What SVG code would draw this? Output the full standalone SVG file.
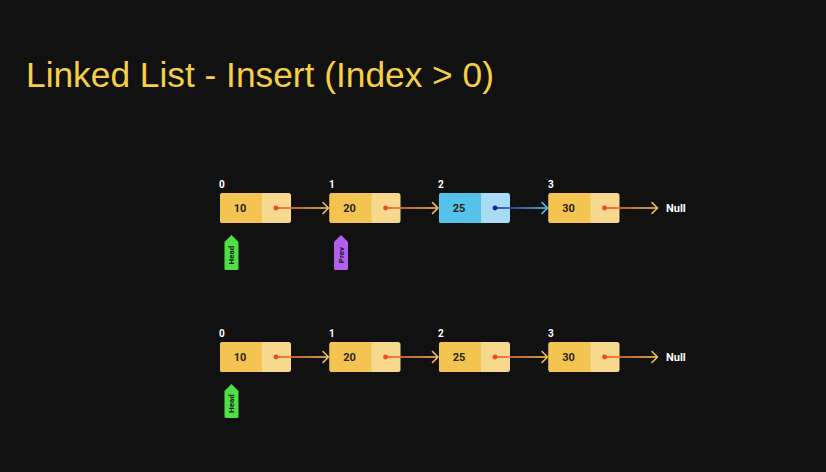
<svg xmlns="http://www.w3.org/2000/svg" width="826" height="472" viewBox="0 0 826 472">
  <defs>
    <linearGradient id="linkRed" x1="0" y1="0" x2="1" y2="0">
      <stop offset="0" stop-color="#e8502a"/>
      <stop offset="1" stop-color="#f2c255"/>
    </linearGradient>
    <linearGradient id="linkBlue" x1="0" y1="0" x2="1" y2="0">
      <stop offset="0" stop-color="#1a2a9a"/>
      <stop offset="1" stop-color="#5bc4ea"/>
    </linearGradient>
    <style>
      .title { font-family: "Liberation Sans", Arial, sans-serif; font-size: 35.3px; fill: #f5cf48; }
      .idx { font-family: Roboto, "Liberation Sans", sans-serif; font-size: 10px; font-weight: bold; fill: #ffffff; }
      .val { font-family: Roboto, "Liberation Sans", sans-serif; font-size: 11px; font-weight: bold; fill: #2a2216; text-anchor: middle; }
      .null { font-family: Roboto, "Liberation Sans", sans-serif; font-size: 11px; font-weight: bold; fill: #ffffff; }
      .tagtxt { font-family: Roboto, "Liberation Sans", sans-serif; font-size: 8px; font-weight: bold; fill: #1a1a1a; text-anchor: middle; }
      .yl { fill: #f3c452; }
      .yr { fill: #f6d98c; }
      .bl { fill: #55c2ea; }
      .br { fill: #a8dcf4; }
      .lnR { fill: url(#linkRed); }
      .lnB { fill: url(#linkBlue); }
      .headY { stroke: #f2c255; stroke-width: 1.6; fill: none; stroke-linecap: round; stroke-linejoin: round; }
      .headB { stroke: #5bc4ea; stroke-width: 1.6; fill: none; stroke-linecap: round; stroke-linejoin: round; }
      .dotR { fill: #f04a23; }
      .dotB { fill: #1522a0; }
    </style>
  </defs>

  <rect width="826" height="472" fill="#111111"/>

  <text class="title" x="26" y="87">Linked List - Insert (Index &gt; 0)</text>

  <!-- Top list: 10 -> 20 -> 25 -> 30 -> Null -->
  <g id="top-node-0">
    <text class="idx" x="219" y="188">0</text>
    <rect class="yr" x="220" y="193" width="71" height="30" rx="2.5"/>
    <path class="yl" d="M222.5 193 H262 V223 H222.5 A2.5 2.5 0 0 1 220 220.5 V195.5 A2.5 2.5 0 0 1 222.5 193 Z"/>
    <text class="val" x="240" y="212">10</text>
  </g>
  <g id="top-node-1">
    <text class="idx" x="329" y="188">1</text>
    <rect class="yr" x="329.5" y="193" width="71" height="30" rx="2.5"/>
    <path class="yl" d="M332 193 H371.5 V223 H332 A2.5 2.5 0 0 1 329.5 220.5 V195.5 A2.5 2.5 0 0 1 332 193 Z"/>
    <text class="val" x="349.5" y="212">20</text>
  </g>
  <g id="top-node-2">
    <text class="idx" x="438" y="188">2</text>
    <rect class="br" x="439" y="193" width="71" height="30" rx="2.5"/>
    <path class="bl" d="M441.5 193 H481 V223 H441.5 A2.5 2.5 0 0 1 439 220.5 V195.5 A2.5 2.5 0 0 1 441.5 193 Z"/>
    <text class="val" x="459" y="212">25</text>
  </g>
  <g id="top-node-3">
    <text class="idx" x="548" y="188">3</text>
    <rect class="yr" x="548.5" y="193" width="71" height="30" rx="2.5"/>
    <path class="yl" d="M551 193 H590.5 V223 H551 A2.5 2.5 0 0 1 548.5 220.5 V195.5 A2.5 2.5 0 0 1 551 193 Z"/>
    <text class="val" x="568.5" y="212">30</text>
  </g>
  <g id="top-null">
    <text class="null" x="666" y="212">Null</text>
  </g>
  <g id="top-head">
    <path fill="#4fe048" d="M231.5 235 L238.5 242 V268.5 A1.5 1.5 0 0 1 237 270 H226 A1.5 1.5 0 0 1 224.5 268.5 V242 Z"/>
    <text class="tagtxt" transform="translate(234.2 255) rotate(-90)">Head</text>
  </g>
  <g id="top-prev">
    <path fill="#b160ec" d="M341 235 L348 242 V268.5 A1.5 1.5 0 0 1 346.5 270 H335.5 A1.5 1.5 0 0 1 334 268.5 V242 Z"/>
    <text class="tagtxt" transform="translate(343.7 255) rotate(-90)">Prev</text>
  </g>

  <g id="top-links">
    <rect class="lnR" x="276" y="207.2" width="52" height="1.6"/>
    <path class="headY" d="M323 202.5 L328.5 208 L323 213.5"/>
    <rect class="lnR" x="385.5" y="207.2" width="52" height="1.6"/>
    <path class="headY" d="M432.5 202.5 L438 208 L432.5 213.5"/>
    <rect class="lnB" x="495" y="207.2" width="52" height="1.6"/>
    <path class="headB" d="M542 202.5 L547.5 208 L542 213.5"/>
    <rect class="lnR" x="604.5" y="207.2" width="52.5" height="1.6"/>
    <path class="headY" d="M652 202.5 L657.5 208 L652 213.5"/>
    <circle class="dotR" cx="276" cy="208" r="2.4"/>
    <circle class="dotR" cx="385.5" cy="208" r="2.4"/>
    <circle class="dotB" cx="495" cy="208" r="2.4"/>
    <circle class="dotR" cx="604.5" cy="208" r="2.4"/>
  </g>

  <!-- Bottom list: 10 -> 20 -> 25 -> 30 -> Null -->
  <g id="bottom-node-0">
    <text class="idx" x="219" y="337">0</text>
    <rect class="yr" x="220" y="342" width="71" height="30" rx="2.5"/>
    <path class="yl" d="M222.5 342 H262 V372 H222.5 A2.5 2.5 0 0 1 220 369.5 V344.5 A2.5 2.5 0 0 1 222.5 342 Z"/>
    <text class="val" x="240" y="361">10</text>
  </g>
  <g id="bottom-node-1">
    <text class="idx" x="329" y="337">1</text>
    <rect class="yr" x="329.5" y="342" width="71" height="30" rx="2.5"/>
    <path class="yl" d="M332 342 H371.5 V372 H332 A2.5 2.5 0 0 1 329.5 369.5 V344.5 A2.5 2.5 0 0 1 332 342 Z"/>
    <text class="val" x="349.5" y="361">20</text>
  </g>
  <g id="bottom-node-2">
    <text class="idx" x="438" y="337">2</text>
    <rect class="yr" x="439" y="342" width="71" height="30" rx="2.5"/>
    <path class="yl" d="M441.5 342 H481 V372 H441.5 A2.5 2.5 0 0 1 439 369.5 V344.5 A2.5 2.5 0 0 1 441.5 342 Z"/>
    <text class="val" x="459" y="361">25</text>
  </g>
  <g id="bottom-node-3">
    <text class="idx" x="548" y="337">3</text>
    <rect class="yr" x="548.5" y="342" width="71" height="30" rx="2.5"/>
    <path class="yl" d="M551 342 H590.5 V372 H551 A2.5 2.5 0 0 1 548.5 369.5 V344.5 A2.5 2.5 0 0 1 551 342 Z"/>
    <text class="val" x="568.5" y="361">30</text>
  </g>
  <g id="bottom-null">
    <text class="null" x="666" y="361">Null</text>
  </g>
  <g id="bottom-head">
    <path fill="#4fe048" d="M231.5 384 L238.5 391 V416.5 A1.5 1.5 0 0 1 237 418 H226 A1.5 1.5 0 0 1 224.5 416.5 V391 Z"/>
    <text class="tagtxt" transform="translate(234.2 403.5) rotate(-90)">Head</text>
  </g>

  <g id="bottom-links">
    <rect class="lnR" x="276" y="356.2" width="52" height="1.6"/>
    <path class="headY" d="M323 351.5 L328.5 357 L323 362.5"/>
    <rect class="lnR" x="385.5" y="356.2" width="52" height="1.6"/>
    <path class="headY" d="M432.5 351.5 L438 357 L432.5 362.5"/>
    <rect class="lnR" x="495" y="356.2" width="52" height="1.6"/>
    <path class="headY" d="M542 351.5 L547.5 357 L542 362.5"/>
    <rect class="lnR" x="604.5" y="356.2" width="52.5" height="1.6"/>
    <path class="headY" d="M652 351.5 L657.5 357 L652 362.5"/>
    <circle class="dotR" cx="276" cy="357" r="2.4"/>
    <circle class="dotR" cx="385.5" cy="357" r="2.4"/>
    <circle class="dotR" cx="495" cy="357" r="2.4"/>
    <circle class="dotR" cx="604.5" cy="357" r="2.4"/>
  </g>
</svg>
